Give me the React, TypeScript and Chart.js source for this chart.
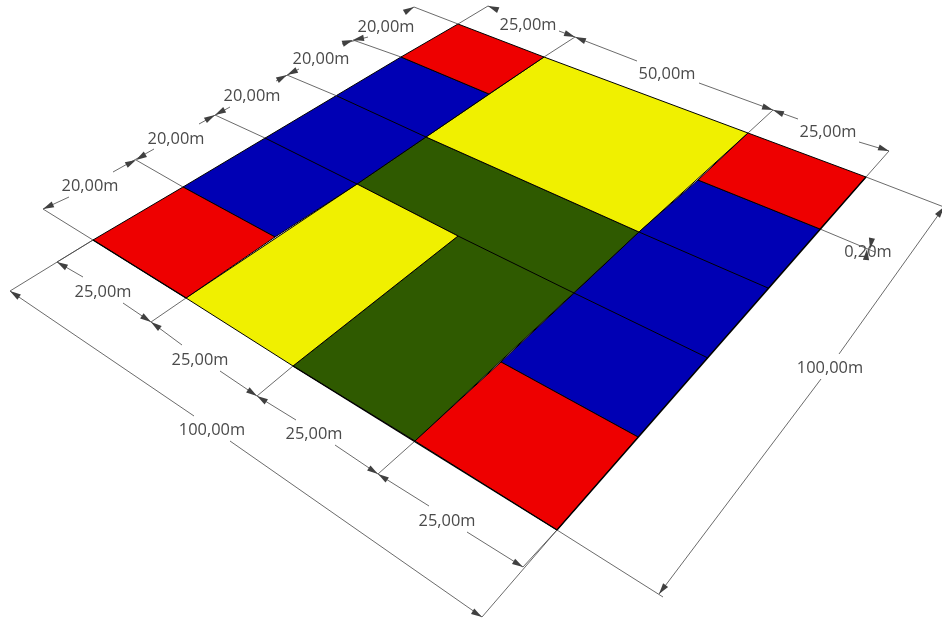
import React, { useEffect, useRef } from "react";
import { Chart, registerables } from "chart.js";

Chart.register(...registerables);

type P = [number, number];

const RED = "#ee0000";
const BLUE = "#0000b4";
const YELLOW = "#f0f000";
const GREEN = "#2f5a00";

const redLeft: P[] = [[93, 240], [183, 187], [275, 237], [186, 298]];
const redTop: P[] = [[458, 24], [544, 57], [489, 94], [401, 57]];
const redRight: P[] = [[748, 133], [866, 177], [820, 229], [698, 180]];
const redBottom: P[] = [[501, 362], [638, 437], [557, 530], [415, 441]];
const blueLeft: P[] = [[183, 187], [401, 57], [489, 94], [357, 184], [275, 237]];
const blueRight: P[] = [[698, 180], [820, 229], [638, 437], [501, 362], [639, 232]];
const yellowTop: P[] = [[544, 57], [748, 133], [639, 232], [426, 137]];
const yellowLeft: P[] = [[357, 184], [458, 236], [293, 366], [186, 298]];
const greenCross: P[] = [[426, 137], [639, 232], [415, 441], [293, 366], [458, 236], [357, 184]];

const fills: [P[], string][] = [
  [redLeft, RED], [redTop, RED], [redRight, RED], [redBottom, RED],
  [blueLeft, BLUE], [blueRight, BLUE],
  [yellowTop, YELLOW], [yellowLeft, YELLOW], [greenCross, GREEN],
];

const innerEdges: P[][] = [
  [[265, 138], [357, 184]], [[337, 96], [426, 137]],
  [[639, 232], [768, 288]], [[574, 293], [708, 358]],
  [[458, 236], [574, 293]],
];

const outerEdges: P[][] = [
  [[93, 240], [186, 298]], [[293, 366], [557, 530]], [[557, 530], [866, 177]],
];

const dimensionSegments: P[][] = [
  // left side, 20,00m row
  [[43, 209], [69, 197]], [[113, 172], [154, 149]], [[199, 124], [230, 107]],
  [[276, 81], [299, 69]], [[342, 44], [368, 37]], [[405, 12], [414, 7]],
  // top side
  [[488, 6], [498, 10]], [[559, 31], [575, 37]], [[575, 37], [637, 61]],
  [[699, 83], [773, 110]], [[773, 110], [798, 119]], [[859, 142], [889, 151]],
  // right side
  [[944, 207], [839, 354]], [[821, 379], [659, 594]],
  // offset 0,20m
  [[820, 229], [875, 252]],
  // bottom row
  [[57, 262], [83, 277]], [[123, 303], [151, 322]], [[151, 322], [182, 345]],
  [[220, 371], [257, 396]], [[257, 396], [296, 420]], [[335, 445], [378, 474]],
  [[378, 474], [429, 506]], [[467, 532], [523, 567]],
  // outer bottom
  [[10, 291], [194, 416]], [[230, 441], [482, 617]],
];

const witnessLines: P[][] = [
  [[93, 240], [43, 209]], [[183, 187], [136, 160]], [[265, 138], [215, 115]],
  [[337, 96], [287, 75]], [[401, 57], [353, 40]], [[458, 24], [414, 7]],
  [[458, 24], [488, 6]], [[544, 57], [575, 37]], [[748, 133], [773, 110]],
  [[866, 177], [889, 151]], [[866, 177], [944, 207]],
  [[93, 240], [10, 291]], [[93, 240], [57, 262]], [[186, 298], [151, 322]],
  [[293, 366], [257, 396]], [[415, 441], [378, 474]], [[557, 530], [523, 567]],
  [[557, 530], [482, 617]], [[557, 530], [663, 597]],
];

// [tip, tail]
const arrowHeads: [P, P][] = [
  [[43, 209], [69, 197]], [[136, 160], [113, 172]], [[136, 160], [154, 149]],
  [[215, 115], [199, 124]], [[215, 115], [230, 107]], [[287, 75], [276, 81]],
  [[287, 75], [299, 69]], [[353, 40], [342, 44]], [[353, 40], [368, 37]],
  [[414, 7], [405, 12]],
  [[488, 6], [498, 10]], [[575, 37], [559, 31]], [[575, 37], [590, 43]],
  [[773, 110], [758, 105]], [[773, 110], [788, 116]], [[889, 151], [872, 145]],
  [[659, 594], [680, 566]], [[944, 207], [930, 226]],
  [[57, 262], [83, 277]], [[151, 322], [130, 308]], [[151, 322], [170, 336]],
  [[257, 396], [236, 382]], [[257, 396], [276, 408]], [[378, 474], [358, 461]],
  [[378, 474], [398, 487]], [[523, 567], [503, 555]],
  [[10, 291], [28, 303]], [[482, 617], [464, 606]],
  [[870, 249], [872, 238]], [[867, 249], [866, 260]],
];

const labels: [string, number, number][] = [
  ["20,00m", 90, 186], ["20,00m", 176, 139], ["20,00m", 252, 96], ["20,00m", 321, 59], ["20,00m", 386, 27],
  ["25,00m", 528, 25], ["50,00m", 667, 74], ["25,00m", 828, 132], ["0,20m", 868, 252], ["100,00m", 830, 368],
  ["25,00m", 103, 292], ["25,00m", 200, 360], ["25,00m", 314, 434], ["25,00m", 447, 521], ["100,00m", 212, 430],
];

const lineSet = (pts: P[], color: string, width: number) => ({
  data: pts.map(([x, y]) => ({ x, y })),
  showLine: true,
  borderColor: color,
  borderWidth: width,
  pointRadius: 0,
  fill: false,
  tension: 0,
});

const annotations = {
  id: "annotations",
  afterDatasetsDraw(chart: any) {
    const { ctx, scales } = chart;
    const px = (p: P): P => [scales.x.getPixelForValue(p[0]), scales.y.getPixelForValue(p[1])];
    ctx.save();
    ctx.font = "500 16.4px 'Open Sans'";
    ctx.fillStyle = "#4a4a4a";
    ctx.textAlign = "center";
    ctx.textBaseline = "middle";
    labels.forEach(([t, x, y]) => {
      const [a, b] = px([x, y]);
      ctx.fillText(t, a, b);
    });
    ctx.fillStyle = "#404040";
    arrowHeads.forEach(([tip, tail]) => {
      const [tx, ty] = px(tip);
      const [bx, by] = px(tail);
      const d = Math.hypot(bx - tx, by - ty) || 1;
      const ux = (bx - tx) / d;
      const uy = (by - ty) / d;
      const len = 11;
      const half = 3.1;
      ctx.beginPath();
      ctx.moveTo(tx, ty);
      ctx.lineTo(tx + ux * len - uy * half, ty + uy * len + ux * half);
      ctx.lineTo(tx + ux * len + uy * half, ty + uy * len - ux * half);
      ctx.closePath();
      ctx.fill();
    });
    ctx.restore();
  },
};

export default function App() {
  const ref = useRef<HTMLCanvasElement>(null);
  useEffect(() => {
    document.body.style.margin = "0";
    const datasets: any[] = [];
    // Chart.js paints the first dataset last, so the lines come first.
    outerEdges.forEach((e) => datasets.push(lineSet(e, "#000000", 1.4)));
    innerEdges.forEach((e) => datasets.push(lineSet(e, "#000000", 1)));
    witnessLines.forEach((e) => datasets.push(lineSet(e, "rgba(70,70,70,0.8)", 1)));
    dimensionSegments.forEach((e) => datasets.push(lineSet(e, "rgba(70,70,70,0.8)", 1)));
    fills.forEach(([poly, color]) => {
      datasets.push({
        data: [...poly, poly[0]].map(([x, y]) => ({ x, y })),
        showLine: true,
        backgroundColor: color,
        borderColor: "#000000",
        borderWidth: 1,
        pointRadius: 0,
        fill: "shape",
        tension: 0,
      });
    });
    const chart = new Chart(ref.current as HTMLCanvasElement, {
      type: "scatter",
      data: { datasets },
      options: {
        animation: false,
        responsive: false,
        devicePixelRatio: 1,
        layout: { padding: 0 },
        clip: false,
        plugins: { legend: { display: false }, tooltip: { enabled: false } },
        events: [],
        scales: {
          x: { type: "linear", min: 0, max: 942, display: false },
          y: { type: "linear", min: 0, max: 618, reverse: true, display: false },
        },
      } as any,
      plugins: [annotations],
    });
    return () => chart.destroy();
  }, []);
  return (
    <canvas
      ref={ref}
      width={942}
      height={618}
      style={{ display: "block", position: "fixed", left: 0, top: 0, width: 942, height: 618, filter: "blur(0.35px)" }}
    />
  );
}
